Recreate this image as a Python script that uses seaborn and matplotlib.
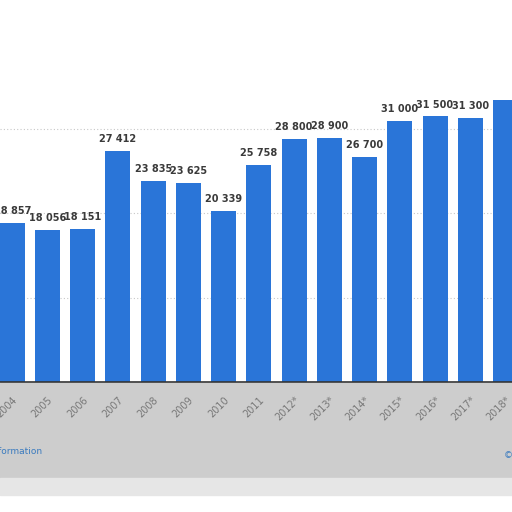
import numpy as np
import pandas as pd
import seaborn as sns
import matplotlib.pyplot as plt
from matplotlib.patches import Rectangle

# values
years = ["2004", "2005", "2006", "2007", "2008", "2009", "2010", "2011",
         "2012*", "2013*", "2014*", "2015*", "2016*", "2017*", "2018*"]
values = [18857, 18056, 18151, 27412, 23835, 23625, 20339, 25758,
          28800, 28900, 26700, 31000, 31500, 31300, 33500]
labels = ["18 857", "18 056", "18 151", "27 412", "23 835", "23 625", "20 339", "25 758",
          "28 800", "28 900", "26 700", "31 000", "31 500", "31 300", ""]

df = pd.DataFrame({"year": years, "value": values})

sns.set_style("white")
plt.rcParams["font.family"] = ["DejaVu Sans"]

fig = plt.figure(figsize=(5.12, 5.12), dpi=100)
fig.patch.set_facecolor("white")

# grey band under the chart
fig.patches.append(Rectangle((0, 1 - 478 / 512), 1, (478 - 383) / 512,
                             transform=fig.transFigure, color="#cdcdcd", zorder=-5))
fig.patches.append(Rectangle((0, 1 - 495 / 512), 1, (495 - 478) / 512,
                             transform=fig.transFigure, color="#e6e6e6", zorder=-5))

ax = fig.add_axes([0, 1 - 382 / 512, 1, 382 / 512])
ax.set_facecolor("white")
sns.barplot(data=df, x="year", y="value", color="#2a75d8", width=0.71,
            saturation=1, edgecolor="none", ax=ax, zorder=3)

ax.set_xlim(-0.348, 14.185)
ax.set_ylim(0, 382 / 0.00843)
ax.set_yticks([10000, 20000, 30000])
ax.yaxis.grid(True, linestyle=(0, (1, 2)), color="#c8c8c8", linewidth=0.8, zorder=0)
ax.tick_params(axis="y", left=False, labelleft=False)
for s in ["top", "left", "right"]:
    ax.spines[s].set_visible(False)
ax.spines["bottom"].set_color("#333333")
ax.spines["bottom"].set_linewidth(1.2)
ax.spines["bottom"].set_zorder(4)
ax.set_xlabel("")
ax.set_ylabel("")

ax.tick_params(axis="x", length=0, pad=9, labelsize=7, labelcolor="#777777")
plt.setp(ax.get_xticklabels(), rotation=45, ha="right", rotation_mode="anchor")

for i, (v, t) in enumerate(zip(values, labels)):
    if t:
        ax.annotate(t, (i, v), xytext=(0, 5), textcoords="offset points",
                    ha="center", va="bottom", fontsize=7, fontweight="bold",
                    color="#3a3a3a", zorder=5)

fig.text(42 / 512, 1 - 451 / 512, "Additional Information", ha="right", va="center",
         fontsize=6.5, color="#3b7bbf")
fig.text(504 / 512, 1 - 456 / 512, "© Statista 2019", ha="left", va="center",
         fontsize=6.5, color="#3b7bbf")

plt.savefig("out.png", dpi=100)
